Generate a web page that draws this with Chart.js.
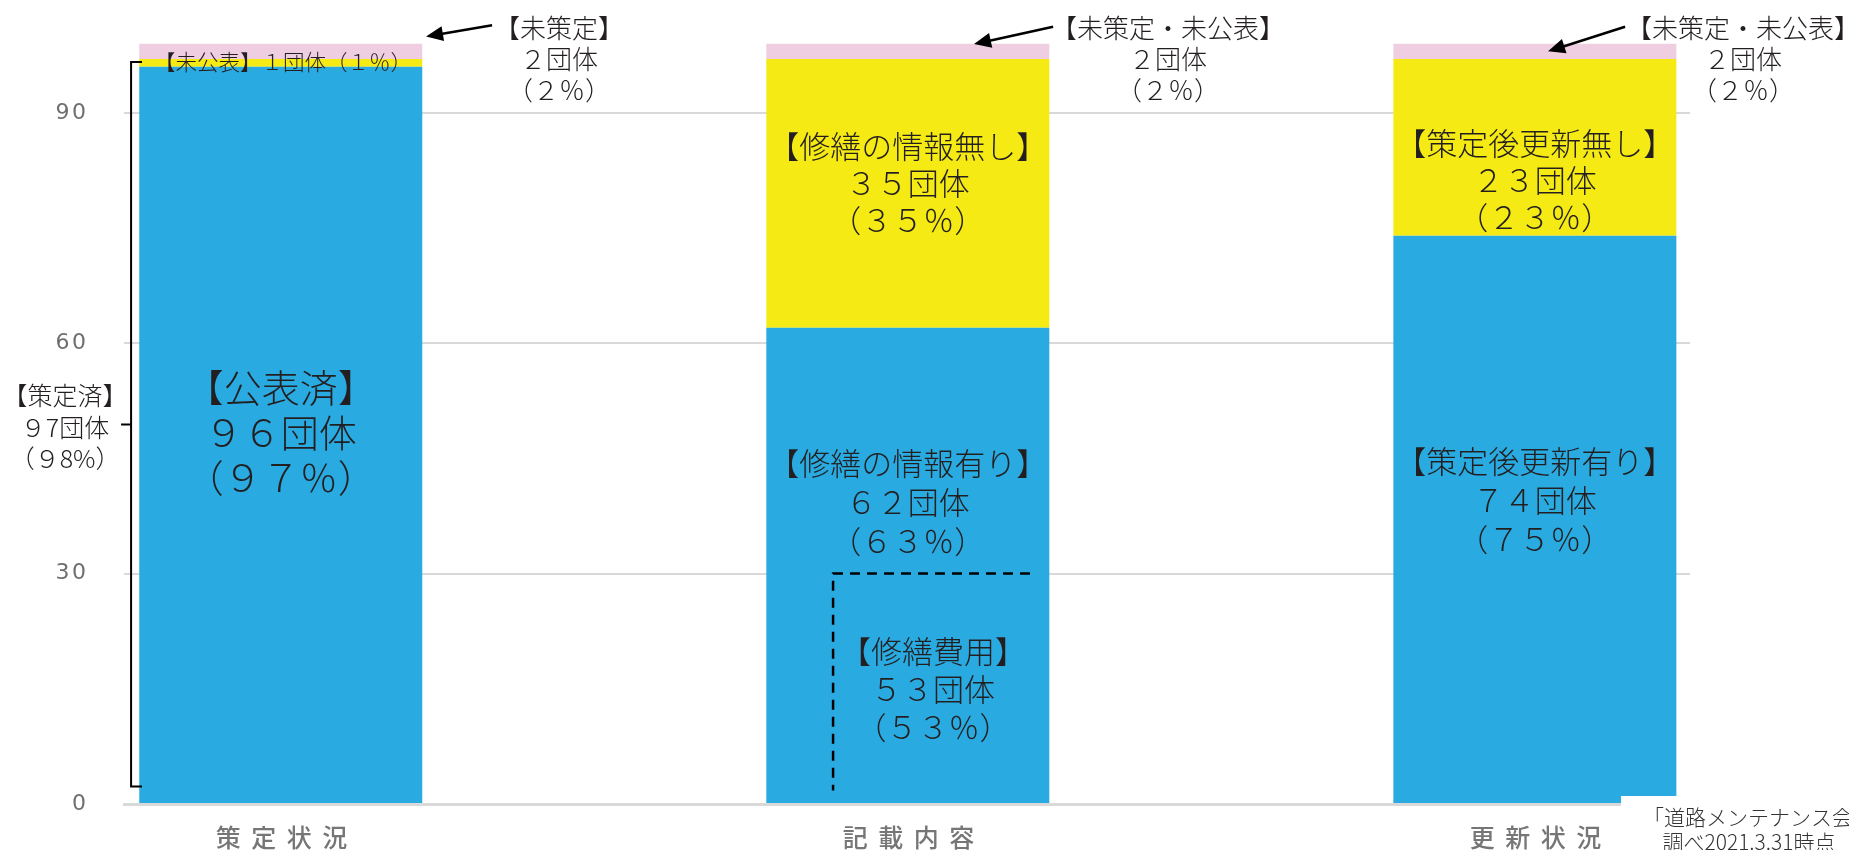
<!DOCTYPE html>
<html><head><meta charset="utf-8">
<script src="https://cdn.jsdelivr.net/npm/chart.js@4.4.0/dist/chart.umd.min.js"></script>
<style>html,body{margin:0;padding:0;background:#fff;overflow:hidden}canvas{display:block}</style>
</head><body>
<canvas id="c" width="1849" height="850"></canvas>
<script>
// ---- data ----
const categories = ['策定状況', '記載内容', '更新状況'];
const blueValues = [96, 62, 74];
const yellowValues = [1, 35, 23];
const pinkValues = [2, 2, 2];
const yTickValues = [0, 30, 60, 90];
const seriesNames = ['公表済・情報有り・更新有り', '未公表・情報無し・更新無し', '未策定・未公表'];
const blueLabels = [['【公表済】', '９６団体', '（９７％）'], ['【修繕の情報有り】', '６２団体', '（６３％）'], ['【策定後更新有り】', '７４団体', '（７５％）']];
const yellowLabels = [['【未公表】１団体（１％）'], ['【修繕の情報無し】', '３５団体', '（３５％）'], ['【策定後更新無し】', '２３団体', '（２３％）']];
const pinkLabels = [['【未策定】', '２団体', '（２％）'], ['【未策定・未公表】', '２団体', '（２％）'], ['【未策定・未公表】', '２団体', '（２％）']];
const totalLabel = ['【策定済】', '９7団体', '（９8%）'];
const subsetLabel = ['【修繕費用】', '５３団体', '（５３％）'];
const sourceNote = ['「道路メンテナンス会', '調べ2021.3.31時点'];

const COLORS = ['#29abe2', '#f5ea14', '#efcee1'];
const JP = "'Noto Sans CJK JP', 'Noto Sans', sans-serif";
const TXT = '#231f20';

const xy = arr => arr.map((v, i) => ({x: i, y: v}));

function block(ctx, lines, x, yMid, size, lh, align) {
  ctx.font = `300 ${size}px ${JP}`;
  ctx.fillStyle = TXT;
  ctx.textAlign = align || 'center';
  ctx.textBaseline = 'middle';
  const n = lines.length;
  lines.forEach((t, i) => ctx.fillText(t, x, yMid + (i - (n - 1) / 2) * lh));
}
function arrow(ctx, x1, y1, x2, y2) {
  const a = Math.atan2(y2 - y1, x2 - x1), L = 17, W = 7.5;
  ctx.strokeStyle = '#000'; ctx.fillStyle = '#000'; ctx.lineWidth = 2.5; ctx.setLineDash([]);
  ctx.beginPath(); ctx.moveTo(x1, y1);
  ctx.lineTo(x2 - L * 0.8 * Math.cos(a), y2 - L * 0.8 * Math.sin(a)); ctx.stroke();
  ctx.beginPath(); ctx.moveTo(x2, y2);
  ctx.lineTo(x2 - L * Math.cos(a) + W * Math.sin(a), y2 - L * Math.sin(a) - W * Math.cos(a));
  ctx.lineTo(x2 - L * Math.cos(a) - W * Math.sin(a), y2 - L * Math.sin(a) + W * Math.cos(a));
  ctx.closePath(); ctx.fill();
}
// per-axis letter spacing for tick labels
function spaced(scale, sp) {
  if (scale._spacedPatched) return;
  const orig = scale.drawLabels;
  scale.drawLabels = function (area) {
    const ctx = this.ctx;
    const prev = ctx.letterSpacing;
    ctx.letterSpacing = sp;
    orig.call(this, area);
    ctx.letterSpacing = prev || '0px';
  };
  scale._spacedPatched = true;
}

const annotations = {
  id: 'annotations',
  afterUpdate(chart) {
    spaced(chart.scales.x, '10.5px');
    spaced(chart.scales.y, '2.5px');
  },
  afterDatasetsDraw(chart) {
    const ctx = chart.ctx, xs = chart.scales.x, ys = chart.scales.y;
    const X = v => xs.getPixelForValue(v), Y = v => ys.getPixelForValue(v);
    ctx.save();
    ctx.letterSpacing = '0px';
    // labels inside blue segments
    block(ctx, blueLabels[0], X(0), Y(48.3), 38, 45);
    block(ctx, blueLabels[1], X(1), Y(39.3), 31, 39);
    block(ctx, blueLabels[2], X(2), Y(39.5), 31, 39);
    // yellow segments
    block(ctx, yellowLabels[0], X(-0.202), Y(96.6), 21.5, 0, 'left');
    block(ctx, yellowLabels[1], X(1), Y(80.8), 31, 37);
    block(ctx, yellowLabels[2], X(2), Y(81.2), 31, 37);
    // pink callouts
    block(ctx, pinkLabels[0], X(0.4438), Y(96.95), 26, 31);
    block(ctx, pinkLabels[1], X(1.415), Y(96.95), 26, 31);
    block(ctx, pinkLabels[2], X(2.332), Y(96.95), 26, 31);
    arrow(ctx, X(0.337), Y(101.4), X(0.2317), Y(99.93));
    arrow(ctx, X(1.2317), Y(101.2), X(1.1056), Y(98.95));
    arrow(ctx, X(2.1439), Y(101.2), X(2.021), Y(98.0));
    // bracket for 策定済
    ctx.strokeStyle = '#000'; ctx.lineWidth = 2; ctx.setLineDash([]);
    ctx.beginPath();
    ctx.moveTo(X(-0.2213), Y(96.6)); ctx.lineTo(X(-0.2387), Y(96.6));
    ctx.lineTo(X(-0.2387), Y(2.28)); ctx.lineTo(X(-0.2213), Y(2.28));
    ctx.moveTo(X(-0.2547), Y(49.4)); ctx.lineTo(X(-0.2387), Y(49.4));
    ctx.stroke();
    block(ctx, totalLabel, X(-0.344), Y(49.03), 25, 31.5);
    // dashed subset box 修繕費用
    ctx.lineWidth = 2.5; ctx.setLineDash([10, 7]);
    ctx.beginPath();
    ctx.moveTo(X(1.1949), Y(30)); ctx.lineTo(X(0.8808), Y(30)); ctx.lineTo(X(0.8808), Y(1.76));
    ctx.stroke();
    ctx.setLineDash([]);
    block(ctx, subsetLabel, X(1.0403), Y(14.9), 31, 38);
    ctx.restore();
  },
  afterDraw(chart) {
    const ctx = chart.ctx;
    ctx.save();
    ctx.letterSpacing = '0px';
    ctx.fillStyle = '#fff';
    ctx.fillRect(1621, 796, 228, 54);
    ctx.font = `300 21px ${JP}`;
    ctx.fillStyle = '#333';
    ctx.textAlign = 'center'; ctx.textBaseline = 'middle';
    ctx.fillText(sourceNote[0], 1748, 817);
    ctx.fillText(sourceNote[1], 1749, 842);
    ctx.restore();
  }
};

new Chart(document.getElementById('c'), {
  type: 'bar',
  data: {
    datasets: [
      {label: seriesNames[0], data: xy(blueValues), backgroundColor: COLORS[0]},
      {label: seriesNames[1], data: xy(yellowValues), backgroundColor: COLORS[1]},
      {label: seriesNames[2], data: xy(pinkValues), backgroundColor: COLORS[2]}
    ]
  },
  options: {
    responsive: false, animation: false, devicePixelRatio: 1,
    barPercentage: 0.4513, categoryPercentage: 1,
    layout: {padding: {top: 36, right: 159, bottom: 0, left: 0}},
    plugins: {legend: {display: false}, tooltip: {enabled: false}},
    scales: {
      x: {
        type: 'linear', stacked: true, min: -0.25, max: 2.2474, offset: false, bounds: 'data',
        afterBuildTicks: s => { s.ticks = categories.map((c, i) => ({value: i})); },
        grid: {display: false, drawTicks: false, offset: false},
        border: {display: true, color: '#d9d9d9', width: 3},
        ticks: {callback: v => categories[v], color: '#767676', padding: 18, maxRotation: 0, autoSkip: false,
                labelOffset: 6, font: {family: JP, size: 25, weight: 500}},
        afterFit: s => { s.height = 46; s.paddingLeft = 0; s.paddingRight = 0; }
      },
      y: {
        stacked: true, min: 0, max: 100,
        afterBuildTicks: s => { s.ticks = yTickValues.map(v => ({value: v})); },
        grid: {color: '#d9d9d9', lineWidth: 2, drawTicks: false},
        border: {display: false},
        ticks: {color: '#6f6f6f', padding: 35.5, font: {family: "'DejaVu Sans', sans-serif", size: 22}},
        afterFit: s => { s.width = 124; s.paddingTop = 0; s.paddingBottom = 0; }
      }
    }
  },
  plugins: [annotations]
});
</script>
</body></html>
